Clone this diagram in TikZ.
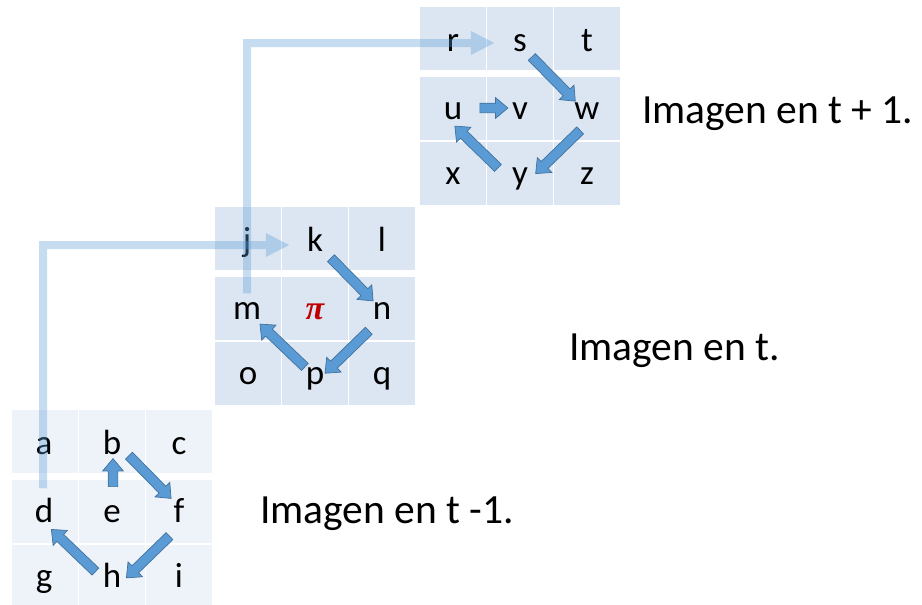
\documentclass[tikz,border=0pt]{standalone}
\usepackage{fontspec}
\setmainfont{Carlito}
\newfontfamily\pifont{Liberation Serif}
\usetikzlibrary{arrows.meta,calc,shapes.arrows}
\definecolor{gridA}{HTML}{EEF3FA}
\definecolor{gridB}{HTML}{DCE6F2}
\definecolor{bfill}{HTML}{5B9BD5}
\definecolor{bdark}{HTML}{41719C}
\definecolor{pired}{HTML}{C00000}
\newcommand\cellgrid[3]{%
  \foreach \cc in {0,1,2}{\foreach \rr in {0,70,135}{%
    \fill[#3] (#1+\cc*67,#2+\rr) rectangle ++(66,63);}}}
\newcommand\barr[4]{%
  \path ($(#1)+(#3)$) -- ($(#2)+(#3)$) node[barrow,midway,sloped,allow upside down,minimum height=#4]{};}
\begin{document}
\begin{tikzpicture}[x=1pt,y=-1pt,
  letter/.style={font=\fontsize{35}{40}\selectfont,text height=24.5pt,text depth=8.2pt,inner sep=1pt},
  caption/.style={font=\fontsize{41.5}{48}\selectfont,anchor=base west,inner sep=0pt},
  barrow/.style={single arrow,draw=bdark,fill=bfill,line width=0.7pt,inner sep=4.5pt,
    minimum width=0pt,single arrow head extend=5.5pt,single arrow head indent=0pt,single arrow tip angle=80},
  lightline/.style={draw=bfill,line width=8pt,-{Triangle[length=24pt,width=22pt]}}]
\useasboundingbox (0,0) rectangle (922,605);
% grids
\cellgrid{12}{410}{gridA}
\cellgrid{215}{207}{gridB}
\cellgrid{420}{7}{gridB}
% letters grid 1
\node[letter] (a) at (44,446) {a};
\node[letter] (b) at (112,446) {b};
\node[letter] (c) at (179,446) {c};
\node[letter] (d) at (44,514) {d};
\node[letter] (e) at (112,514) {e};
\node[letter] (f) at (179,514) {f};
\node[letter] (g) at (44,579) {g};
\node[letter] (h) at (112,579) {h};
\node[letter] (i) at (179,579) {i};
% letters grid 2
\node[letter] (j) at (247,243) {j};
\node[letter] (k) at (315,243) {k};
\node[letter] (l) at (382,243) {l};
\node[letter] (m) at (247,311) {m};
\node[letter,font=\pifont\bfseries\itshape\fontsize{34}{38}\selectfont,text=pired] (pi) at (315,311) {π};
\node[letter] (n) at (382,311) {n};
\node[letter] (o) at (248,376) {o};
\node[letter] (p) at (315,376) {p};
\node[letter] (q) at (382,376) {q};
% letters grid 3
\node[letter] (r) at (453,43) {r};
\node[letter] (s) at (520,43) {s};
\node[letter] (t) at (587,43) {t};
\node[letter] (u) at (453,111) {u};
\node[letter] (v) at (520,111) {v};
\node[letter] (w) at (587,111) {w};
\node[letter] (x) at (453,176) {x};
\node[letter] (y) at (520,176) {y};
\node[letter] (z) at (587,176) {z};
% light connectors
\begin{scope}[transparency group,opacity=0.35]
\draw[lightline,shorten <=8pt,shorten >=16pt] ([xshift=-1pt]d.north) |- ([yshift=-2pt]k.west);
\end{scope}
\begin{scope}[transparency group,opacity=0.35]
\draw[lightline,shorten <=0pt,shorten >=17pt] (m.north) |- (s.west);
\end{scope}
% block arrows
\barr{e}{b}{1,-4.5}{28}
\barr{b}{f}{2.5,-5}{60}
\barr{f}{h}{4.5,8.5}{60}
\barr{h}{d}{-2.5,6}{61}
\barr{k}{n}{1.5,0.5}{60}
\barr{n}{p}{0.5,6.5}{61}
\barr{p}{m}{3.5,4}{62}
\barr{s}{w}{-2,0}{62}
\barr{w}{y}{6.5,6.5}{62}
\barr{y}{u}{-8,5.5}{60}
\barr{u}{v}{4.5,-3}{28}
% captions
\node[caption] (cap3) at (642,123) {Imagen en t + 1.};
\node[caption] (cap2) at (569,360) {Imagen en t.};
\node[caption] (cap1) at (260,523) {Imagen en t -1.};
\end{tikzpicture}
\end{document}
